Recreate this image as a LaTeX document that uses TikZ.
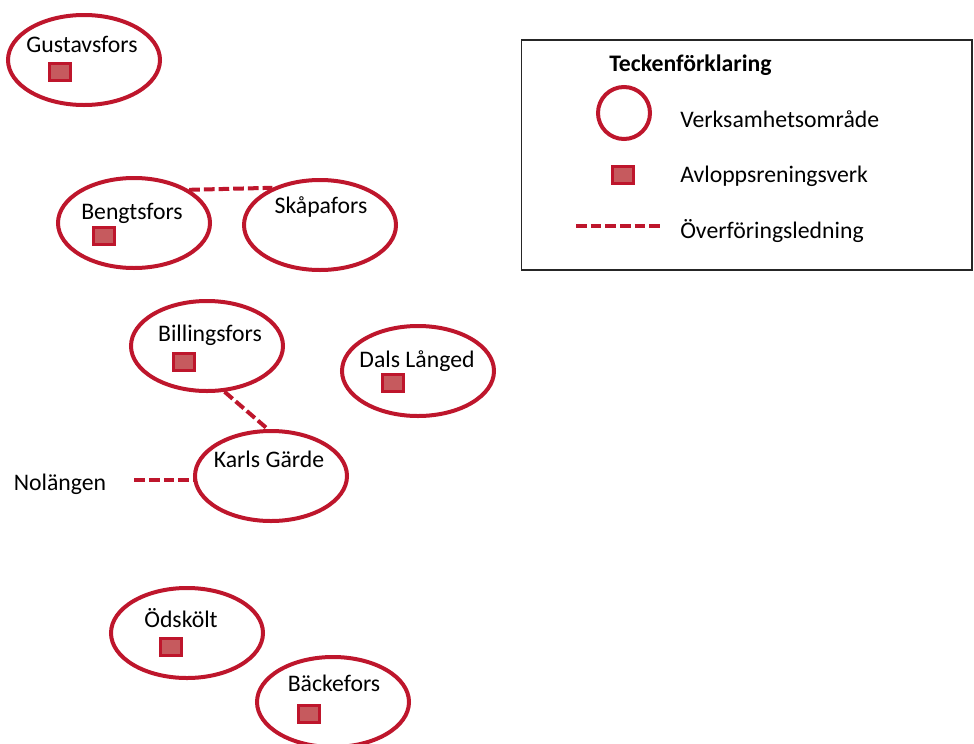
\documentclass[tikz,border=0pt]{standalone}
\usepackage{fontspec}
\setmainfont{Carlito}
\usetikzlibrary{shapes.geometric}
\definecolor{areared}{RGB}{190,22,44}
\definecolor{plantred}{RGB}{198,90,94}
\tikzset{
  zone/.style={ellipse, draw=areared, line width=3pt, minimum width=114pt, minimum height=67.5pt, inner sep=0pt},
  plant/.style={rectangle, draw=areared, fill=plantred, line width=2.7pt, minimum width=16pt, minimum height=13pt, inner sep=0pt},
  pipe/.style={draw=areared, line width=3pt, dash pattern=on 8pt off 3pt},
  town/.style={inner sep=0pt, anchor=base, font=\fontsize{17.8}{21}\selectfont},
}

\begin{document}
\begin{tikzpicture}[x=0.75pt, y=-0.75pt]
        \useasboundingbox (0,0) rectangle (974,743);
        % Gustavsfors
        \node[zone] (gus) at (84,60) {};
        \node[town] (gustxt) at (82,52) {Gustavsfors};
        \node[plant] (gusplant) at (60,72) {};
        % Bengtsfors
        \node[zone] (beng) at (134,223) {};
        \node[town] (bengtxt) at (132,219) {Bengtsfors};
        \node[plant] (bengplant) at (104,236) {};
        % Skåpafors
        \node[zone] (skap) at (320,225) {};
        \node[town] (skaptxt) at (321,213) {Skåpafors};
        % Billingsfors
        \node[zone] (bill) at (207,346) {};
        \node[town] (billtxt) at (210,341) {Billingsfors};
        \node[plant] (billplant) at (184,362) {};
        % Dals Långed
        \node[zone] (dals) at (418,371) {};
        \node[town] (dalstxt) at (417,367) {Dals Långed};
        \node[plant] (dalsplant) at (393,383) {};
        % Karls Gärde
        \node[zone] (karl) at (271,476) {};
        \node[town] (karltxt) at (269,467) {Karls Gärde};
        % Nolängen
        \node[town] (nol) at (60,490) {Nolängen};
        % Ödskölt
        \node[zone] (ods) at (187,633) {};
        \node[town] (odstxt) at (181,627) {Ödskölt};
        \node[plant] (odsplant) at (171,647) {};
        % Bäckefors
        \node[zone] (back) at (333,702) {};
        \node[town] (backtxt) at (334,691) {Bäckefors};
        \node[plant] (backplant) at (309,714) {};
        % transfer lines
        \draw[pipe] (beng.31) -- (skap.142);
        \draw[pipe] (bill.-69) -- (karl.94);
        \draw[pipe, shorten <=21pt] (nol.east |- karl.183) -- (karl.183);
        % legend
        \node[draw=black!85, line width=1pt, minimum width=338pt, minimum height=172.5pt, inner sep=0pt] (legend) at (746.5,155) {};
        \node[town, anchor=base west, font=\fontsize{17.8}{21}\selectfont\bfseries] (legtitle) at (609,71) {Teckenförklaring};
        \node[zone, circle, minimum size=39pt] (keyzone) at (624,113) {};
        \node[plant] (keyplant) at (623,175) {};
        \coordinate (keyleft) at (576,226);
        \coordinate (keyright) at (660,226);
        \draw[pipe] (keyleft) -- (keyright);
        \node[town, anchor=base west] (keyzonetxt) at (680,127) {Verksamhetsområde};
        \node[town, anchor=base west] (keyplanttxt) at (680,182) {Avloppsreningsverk};
        \node[town, anchor=base west] (keypipetxt) at (680,238) {Överföringsledning};
    \end{tikzpicture}
\end{document}
